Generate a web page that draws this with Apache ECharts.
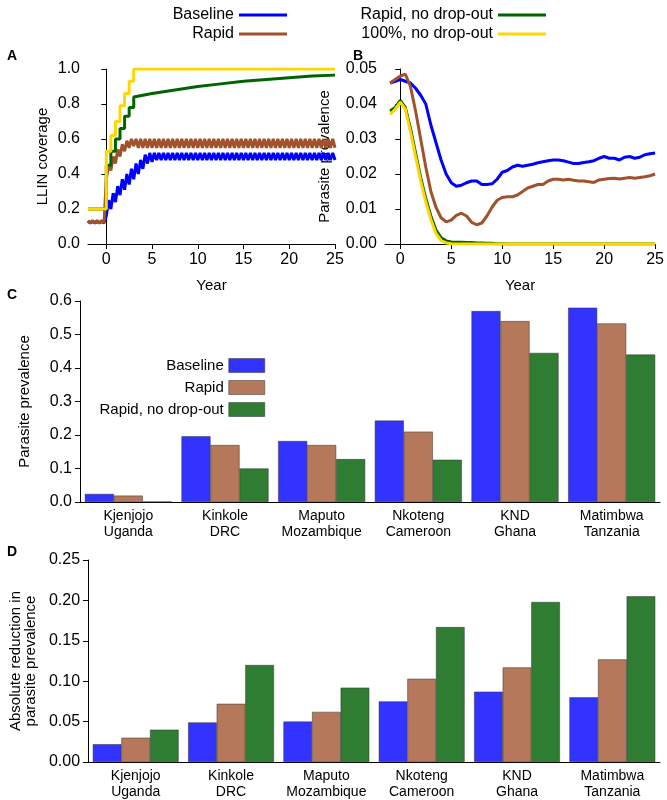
<!DOCTYPE html>
<html><head><meta charset="utf-8">
<script src="https://cdn.jsdelivr.net/npm/echarts@6/dist/echarts.min.js"></script>
<style>html,body{margin:0;padding:0;background:#fff}#c{width:667px;height:800px}</style>
</head><body><div id="c"></div>
<script>
// Panel A: time step 0.25 years from -2 to 25
const tA = [];
for (let i = 0; i <= 108; i++) tA.push(-2 + i * 0.25);
const covBaseline = [0.13,0.12,0.13,0.12,0.13,0.12,0.13,0.12,
 0.16,0.25,0.20,0.29,0.24,0.33,0.28,0.37,0.31,0.40,0.34,0.43,0.37,0.46,0.40,0.48,0.43,0.51,0.46,0.52,0.47,
 0.52,0.48,0.52,0.48,0.52,0.48,0.52,0.48,0.52,0.48,0.52,0.48,0.52,0.48,0.52,0.48,0.52,0.48,0.52,0.48,
 0.52,0.48,0.52,0.48,0.52,0.48,0.52,0.48,0.52,0.48,0.52,0.48,0.52,0.48,0.52,0.48,0.52,0.48,0.52,0.48,
 0.52,0.48,0.52,0.48,0.52,0.48,0.52,0.48,0.52,0.48,0.52,0.48,0.52,0.48,0.52,0.48,0.52,0.48,0.52,0.48,
 0.52,0.48,0.52,0.48,0.52,0.48,0.52,0.48,0.52,0.48,0.52,0.48,0.52,0.48,0.52,0.48,0.52,0.48,0.52,0.48];
const covRapid = [0.135,0.12,0.135,0.12,0.135,0.12,0.135,0.12,
 0.37,0.45,0.42,0.50,0.46,0.54,0.50,0.57,0.53,0.59,0.55,0.60,0.56,
 0.60,0.55,0.60,0.55,0.60,0.55,0.60,0.55,0.60,0.55,0.60,0.55,0.60,0.55,0.60,0.55,0.60,0.55,0.60,0.55,0.60,0.55,
 0.60,0.55,0.60,0.55,0.60,0.55,0.60,0.55,0.60,0.55,0.60,0.55,0.60,0.55,0.60,0.55,0.60,0.55,0.60,0.55,0.60,0.55,
 0.60,0.55,0.60,0.55,0.60,0.55,0.60,0.55,0.60,0.55,0.60,0.55,0.60,0.55,0.60,0.55,0.60,0.55,0.60,0.55,0.60,0.55,
 0.60,0.55,0.60,0.55,0.60,0.55,0.60,0.55,0.60,0.55,0.60,0.55,0.60,0.55,0.60,0.55,0.60,0.55,0.60,0.55,0.60,0.55];
const covNoDrop = [[-2,0.2],[0,0.2],[0,0.45],[0.5,0.45],[0.5,0.53],[1,0.53],[1,0.60],[1.5,0.60],[1.5,0.66],[2,0.66],[2,0.73],[2.5,0.73],[2.5,0.78],[3,0.78],[3,0.84],[5,0.86],[7.5,0.88],[10,0.90],[12.5,0.915],[15,0.93],[17.5,0.94],[20,0.95],[22.5,0.96],[25,0.965]];
const cov100 = [[-2,0.2],[0,0.2],[0,0.53],[0.5,0.53],[0.5,0.62],[1,0.62],[1,0.70],[1.5,0.70],[1.5,0.79],[2,0.79],[2,0.86],[2.5,0.86],[2.5,0.93],[3,0.93],[3,1.0],[25,1.0]];

// Panel B: step 0.5 years from -1 to 25
const tB = [];
for (let i = 0; i <= 52; i++) tB.push(-1 + i * 0.5);
const prevBaseline = [0.046,0.0465,0.047,0.0465,0.046,0.0445,0.0425,0.04,0.034,0.029,0.024,0.02,0.0175,
 0.0165,0.0168,0.0175,0.018,0.018,0.017,0.017,0.0172,0.0185,0.0205,
 0.021,0.022,0.0225,0.0222,0.0225,0.0228,0.0232,0.0235,0.0238,0.024,
 0.024,0.0238,0.0234,0.023,0.023,0.0233,0.0235,0.0238,0.0245,0.025,
 0.0245,0.0245,0.024,0.0248,0.025,0.0245,0.0248,0.0255,0.0258,0.026];
const prevRapid = [0.046,0.047,0.048,0.0485,0.045,0.038,0.03,0.022,0.015,0.0105,0.0075,0.0063,0.0068,
 0.0082,0.0088,0.008,0.0062,0.0055,0.006,0.008,0.0105,0.0125,0.0133,
 0.0135,0.0135,0.014,0.015,0.016,0.0165,0.017,0.017,0.018,0.0185,
 0.0185,0.0183,0.0185,0.0182,0.018,0.018,0.0178,0.0176,0.0183,0.0185,
 0.0187,0.0188,0.0186,0.0188,0.019,0.0188,0.019,0.0192,0.0195,0.02];
const prevNoDrop = [0.038,0.039,0.041,0.039,0.033,0.026,0.019,0.013,0.008,0.004,0.0018,0.0009,0.0006,
 0.0005,0.0005,0.0004,0.0004,0.0003,0.0003,0.0002,0.0002,0.0001,0.0001,
 0,0,0,0,0,0,0,0,0,0, 0,0,0,0,0,0,0,0,0,0, 0,0,0,0,0,0,0,0,0,0];
const prev100 = [0.037,0.0385,0.0405,0.0385,0.032,0.025,0.018,0.012,0.007,0.003,0.001,0.0003,0.0001,
 0,0,0,0,0,0,0,0,0,0, 0,0,0,0,0,0,0,0,0,0, 0,0,0,0,0,0,0,0,0,0, 0,0,0,0,0,0,0,0,0,0];

const sites = ['Kjenjojo\nUganda','Kinkole\nDRC','Maputo\nMozambique','Nkoteng\nCameroon','KND\nGhana','Matimbwa\nTanzania'];
const cBaseline = [0.024,0.196,0.182,0.243,0.57,0.58];
const cRapid = [0.019,0.17,0.17,0.21,0.54,0.533];
const cNoDrop = [0.001,0.1,0.128,0.126,0.445,0.44];
const dBaseline = [0.022,0.049,0.05,0.075,0.087,0.08];
const dRapid = [0.03,0.072,0.062,0.103,0.117,0.127];
const dNoDrop = [0.04,0.12,0.092,0.167,0.198,0.205];
const yearTicks = [0,5,10,15,20,25];

const F = 'Liberation Sans, Arial, sans-serif';
const COL = {b:'#0000ff', r:'#a0522d', g:'#006400', y:'#ffd700'};
const BAR = {b:'#3333ff', r:'#b5785a', g:'#2e7d32'};
const ax = {color:'#000', fontSize:16, fontFamily:F};
const nm = {color:'#000', fontSize:15, fontFamily:F};
const line = {lineStyle:{color:'#000', width:1}};
function valX(gi, min, name){
  return {type:'value', gridIndex:gi, min:min, max:25, name:name, nameLocation:'middle', nameGap:34,
    nameTextStyle:nm, axisLine:line, axisTick:{lineStyle:{color:'#000'}, customValues:yearTicks},
    axisLabel:Object.assign({customValues:yearTicks}, ax), splitLine:{show:false}};
}
function valY(gi, max, iv, dec, name, gap){
  return {type:'value', gridIndex:gi, min:0, max:max, interval:iv, name:name, nameLocation:'middle', nameGap:gap,
    nameTextStyle:nm, axisLine:Object.assign({show:true}, line), axisTick:{show:true, lineStyle:{color:'#000'}},
    axisLabel:Object.assign({formatter:v=>v.toFixed(dec)}, ax), splitLine:{show:false}};
}
function catX(gi){
  return {type:'category', gridIndex:gi, data:sites, axisLine:line, axisTick:{show:false},
    axisLabel:{lineHeight:16, margin:6, interval:0, color:'#000', fontSize:14, fontFamily:F}};
}
function ls(name, color, xi, data){
  return {name:name, type:'line', xAxisIndex:xi, yAxisIndex:xi, data:data, showSymbol:false, symbol:'none',
    lineStyle:{color:color, width:3}, itemStyle:{color:color}};
}
function bs(name, color, xi, data){
  return {name:name, type:'bar', xAxisIndex:xi, yAxisIndex:xi, data:data, barGap:'0%', barCategoryGap:'10%',
    itemStyle:{color:color, borderColor:'#333', borderWidth:0.5}};
}
const zip = (t, y) => t.map((x, i) => [x, y[i]]);
function lg(name, color, right, top){
  return {data:[{name:name, icon:'rect', itemStyle:{color:color}}], right:right, top:top, align:'right',
    itemWidth:48, itemHeight:3, textStyle:{fontSize:16, fontFamily:F, color:'#000'}, selectedMode:false};
}
function lgBar(name, color, top){
  return {data:[{name:name, icon:'rect', itemStyle:{color:color, borderColor:'#333', borderWidth:0.5}}],
    right:667-270, top:top, align:'right', itemWidth:36, itemHeight:14, itemGap:4,
    textStyle:{fontSize:15, fontFamily:F, color:'#000'}, selectedMode:false};
}
const panel = t => ({text:t.l, left:t.x, top:t.y, textStyle:{fontSize:14, fontWeight:'bold', fontFamily:F, color:'#000'}});

const chart = echarts.init(document.getElementById('c'), null, {renderer:'canvas'});
chart.setOption({
  backgroundColor:'#fff',
  animation:false,
  title:[{l:'A',x:2,y:44},{l:'B',x:348,y:44},{l:'C',x:2,y:283},{l:'D',x:2,y:540}].map(panel),
  legend:[lg('Baseline',COL.b,375,2), lg('Rapid',COL.r,375,21), lg('Rapid, no drop-out',COL.g,116,2), lg('100%, no drop-out',COL.y,116,21),
    lgBar('Baseline',BAR.b,353), lgBar('Rapid',BAR.r,375), lgBar('Rapid, no drop-out',BAR.g,397)],
  grid:[
    {left:88, right:332, top:69, height:175},
    {left:385, right:7, top:69, height:175},
    {left:80, right:7, top:301, height:201},
    {left:80, right:7, top:560, height:204}
  ],
  xAxis:[valX(0,-2,'Year'), valX(1,-1.5,'Year'), catX(2), catX(3)],
  yAxis:[valY(0,1,0.2,1,'LLIN coverage',38), valY(1,0.05,0.01,2,'Parasite prevalence',53),
    valY(2,0.6,0.1,1,'Parasite prevalence',48), valY(3,0.25,0.05,2,'Absolute reduction in\nparasite prevalence',50)],
  series:[
    ls('Baseline',COL.b,0,zip(tA,covBaseline)),
    ls('Rapid',COL.r,0,zip(tA,covRapid)),
    ls('Rapid, no drop-out',COL.g,0,covNoDrop),
    ls('100%, no drop-out',COL.y,0,cov100),
    ls('Baseline',COL.b,1,zip(tB,prevBaseline)),
    ls('Rapid',COL.r,1,zip(tB,prevRapid)),
    ls('Rapid, no drop-out',COL.g,1,zip(tB,prevNoDrop)),
    ls('100%, no drop-out',COL.y,1,zip(tB,prev100)),
    bs('Baseline',BAR.b,2,cBaseline), bs('Rapid',BAR.r,2,cRapid), bs('Rapid, no drop-out',BAR.g,2,cNoDrop),
    bs('Baseline',BAR.b,3,dBaseline), bs('Rapid',BAR.r,3,dRapid), bs('Rapid, no drop-out',BAR.g,3,dNoDrop)
  ]
});
</script></body></html>
